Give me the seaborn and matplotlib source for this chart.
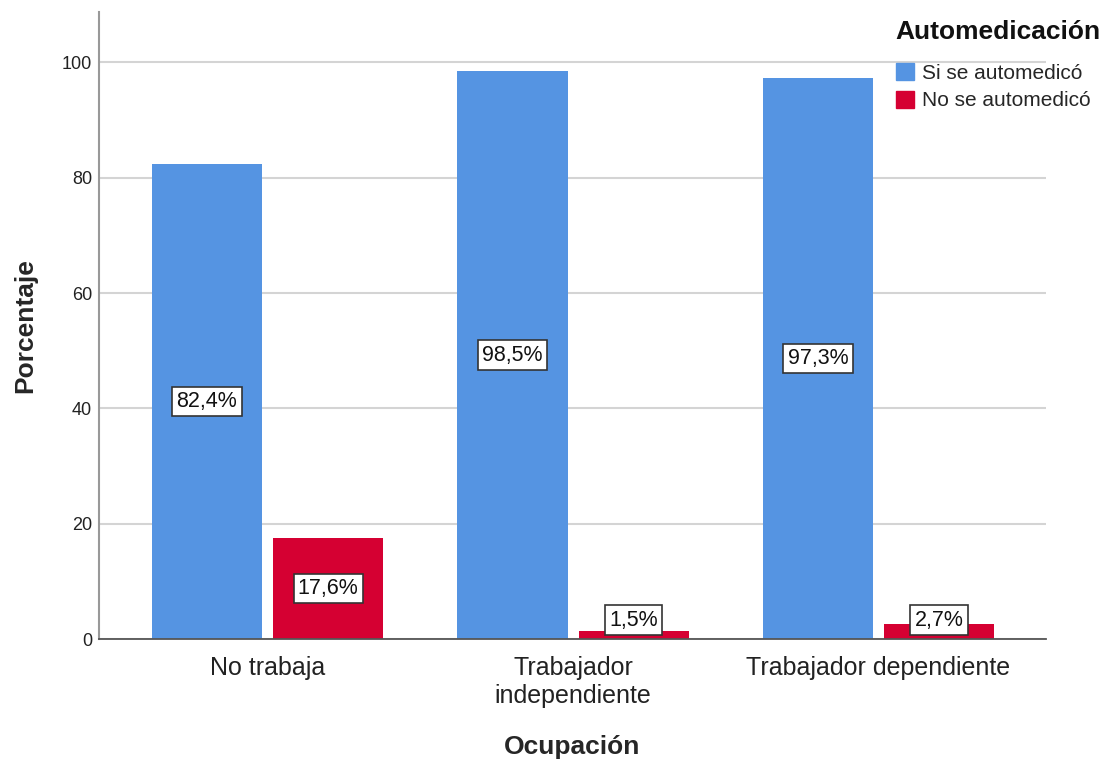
import pandas as pd
import seaborn as sns
import matplotlib.pyplot as plt

# datos
ocupacion = ['No trabaja', 'Trabajador\nindependiente', 'Trabajador dependiente']
automed = ['Si se automedicó', 'No se automedicó']
si_valores = [82.4, 98.5, 97.3]
no_valores = [17.6, 1.5, 2.7]
colores = ['#5594e2', '#d50032']

df = pd.DataFrame({
    'Ocupación': ocupacion * 2,
    'Automedicación': [automed[0]] * 3 + [automed[1]] * 3,
    'Porcentaje': si_valores + no_valores,
})

sns.set_style('white')
plt.rcParams['font.family'] = ['Liberation Sans', 'DejaVu Sans']

fig = plt.figure(figsize=(11.12, 7.6), dpi=100)
ax = fig.add_axes([0.089, 0.159, 0.8516, 0.825])

sns.barplot(data=df, x='Ocupación', y='Porcentaje', hue='Automedicación',
            order=ocupacion, hue_order=automed, palette=colores,
            width=0.794, gap=0.09, saturation=1, legend=False, ax=ax,
            edgecolor='none')

ax.set_xlim(-0.552, 2.548)
ax.set_ylim(0, 108.7)
ax.set_yticks([0, 20, 40, 60, 80, 100])
ax.yaxis.grid(True, color='#d4d4d4', lw=1.5)
ax.set_axisbelow(True)
ax.tick_params(axis='y', labelsize=13, length=0, pad=5, labelcolor='#222222')
ax.tick_params(axis='x', labelsize=18, length=0, pad=12, labelcolor='#222222')
for s in ['top', 'right']:
    ax.spines[s].set_visible(False)
ax.spines['left'].set_color('#999999')
ax.spines['left'].set_linewidth(1.5)
ax.spines['bottom'].set_color('#555555')
ax.spines['bottom'].set_linewidth(1.3)

ax.set_xlabel('Ocupación', fontsize=19, fontweight='bold', labelpad=20)
ax.set_ylabel('Porcentaje', fontsize=19, fontweight='bold', labelpad=18)

# etiquetas de porcentaje en cada barra
for cont in ax.containers:
    for bar in cont:
        h = bar.get_height()
        xc = bar.get_x() + bar.get_width() / 2
        ax.text(xc, max(h / 2, 3.3), f'{h:.1f}%'.replace('.', ','),
                ha='center', va='center', fontsize=15.5, color='#111111',
                bbox=dict(boxstyle='square,pad=0.2', fc='white',
                          ec='#333333', lw=1.2))

# leyenda con titulo aparte
fig.text(0.805, 0.958, 'Automedicación', fontsize=19, fontweight='bold',
         color='#111111', va='center', ha='left')
handles = [plt.Rectangle((0, 0), 1, 1, color=c) for c in colores]
leg = fig.legend(handles, automed, loc='upper left',
                 bbox_to_anchor=(0.806, 0.917), frameon=False, fontsize=15,
                 handlelength=0.85, handleheight=0.85, handletextpad=0.4,
                 labelspacing=0.4, borderaxespad=0, borderpad=0)

fig.savefig('out.png', dpi=100)
